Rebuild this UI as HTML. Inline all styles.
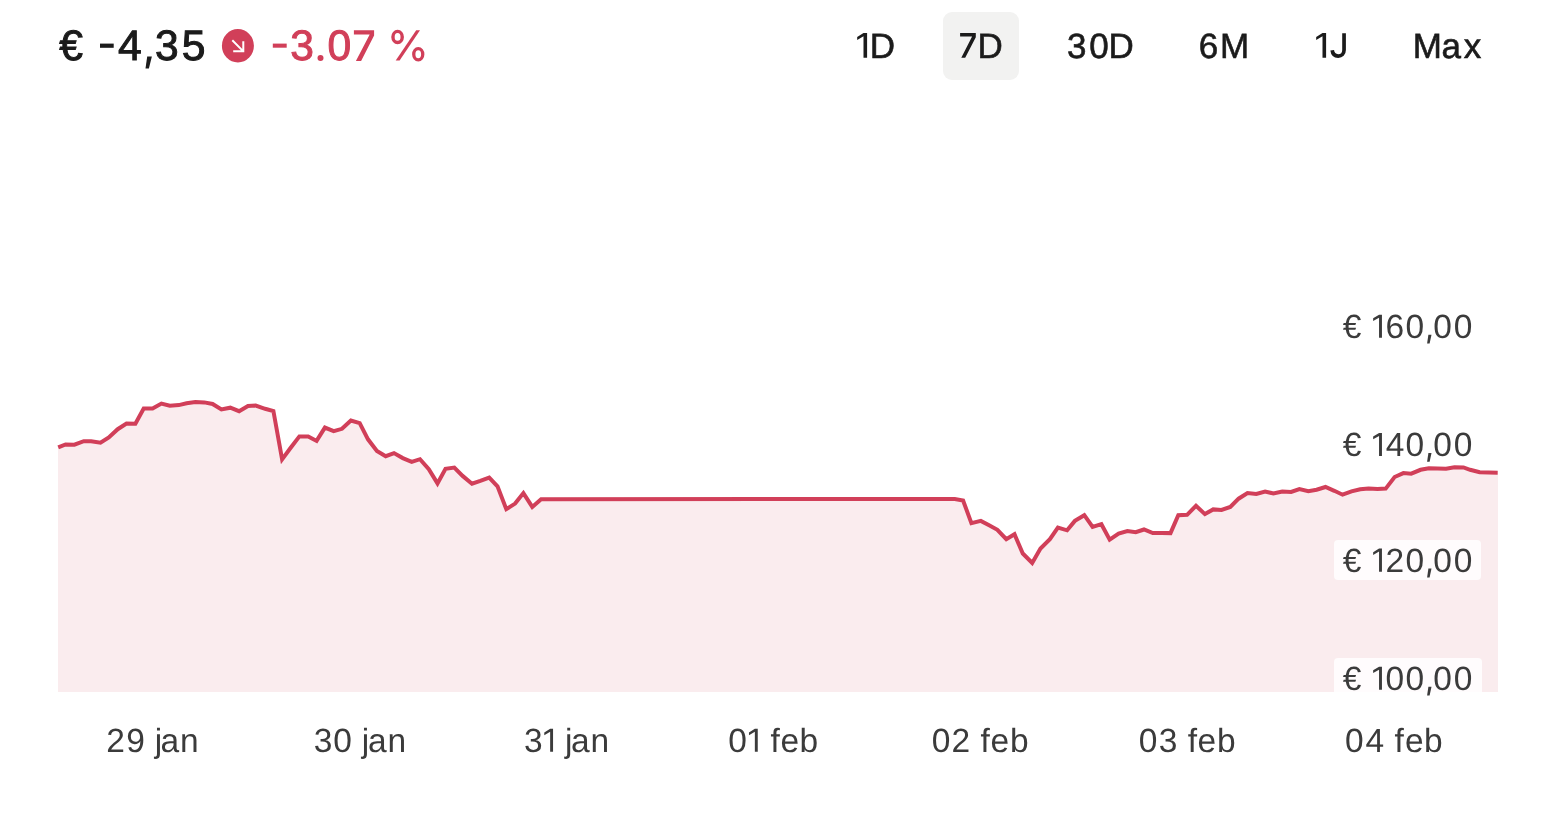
<!DOCTYPE html>
<html><head><meta charset="utf-8">
<style>
html,body{margin:0;padding:0;background:#fff;}
body{width:1552px;height:814px;position:relative;overflow:hidden;}
svg{position:absolute;left:0;top:0;font-family:"Liberation Sans",sans-serif;will-change:transform;text-rendering:geometricPrecision;}
</style></head><body>
<svg width="1552" height="814" viewBox="0 0 1552 814">
<rect x="943" y="12" width="76" height="68" rx="9" fill="#f2f2f1"/>
<polygon points="58,692 58,447.4 65.6,444.4 74.4,444.7 83.8,441.2 91.1,441.2 100.5,442.7 108.8,437.5 117.7,429.2 126.5,423.6 135.4,423.8 143.7,408.5 152.6,408.5 161.4,403.6 169.8,405.8 178.8,405.1 186.6,403.2 195.4,402.1 204.3,402.4 212.6,404 221.4,409.5 230.3,407.7 239.1,411.2 248,406 255.7,405.5 265.1,408.8 273.4,411 282.1,459.4 290.5,448 299.4,436.4 308.2,436.4 316.6,440.9 324.9,427.6 333.7,431.2 342,428.8 350.9,420.5 359.7,423.2 368,439.3 376.9,450.9 385.7,456.2 394,453.1 402.8,458.1 411.7,461.9 420,459.2 428.8,469.1 437.5,483.4 445.5,468.8 454.3,467.6 462.6,475.9 472,483.7 480.3,480.9 489.2,477.6 497.5,486.4 506.3,509.1 515.1,503.6 523.4,493.1 532.3,506.9 541.1,499.2 954.8,499 963.1,500.5 971.4,523.1 980.8,520.9 989.1,525.3 997.4,529.8 1006.3,539.2 1014.5,534.2 1022.8,553.5 1032.2,562.9 1040.5,548.6 1049.9,539.2 1057.9,527.6 1067.1,530.3 1074.9,520.9 1084.3,515.2 1092.6,527 1101.4,524.2 1109.7,539.7 1118.6,533.6 1127.4,531.1 1135.7,532.2 1144,529.5 1152.8,533.1 1161.7,532.9 1170.5,533.1 1178.3,515.2 1187.1,514.8 1196,505.8 1204.9,514.1 1213.2,509.4 1221.5,509.9 1230.3,506.9 1238.6,498.7 1247.5,493.1 1256.3,494 1265.1,491.5 1273.4,493.5 1282.3,491.5 1291.1,492 1299.4,489 1308.3,491.2 1316.6,489.7 1325.5,487 1334.3,490.8 1342.6,494.7 1351.5,491.4 1360.3,489.2 1368.6,488.4 1377.5,488.9 1385.7,488.6 1394.6,477 1403.4,473.1 1411.2,473.7 1420.6,469.8 1428.9,468.2 1437.7,468.5 1446,468.7 1454.5,467.3 1463.5,467.4 1470.1,469.8 1479.7,472.3 1498,472.8 1498,692" fill="#faecee"/>
<polyline points="58.2,447.4 65.6,444.4 74.4,444.7 83.8,441.2 91.1,441.2 100.5,442.7 108.8,437.5 117.7,429.2 126.5,423.6 135.4,423.8 143.7,408.5 152.6,408.5 161.4,403.6 169.8,405.8 178.8,405.1 186.6,403.2 195.4,402.1 204.3,402.4 212.6,404 221.4,409.5 230.3,407.7 239.1,411.2 248,406 255.7,405.5 265.1,408.8 273.4,411 282.1,459.4 290.5,448 299.4,436.4 308.2,436.4 316.6,440.9 324.9,427.6 333.7,431.2 342,428.8 350.9,420.5 359.7,423.2 368,439.3 376.9,450.9 385.7,456.2 394,453.1 402.8,458.1 411.7,461.9 420,459.2 428.8,469.1 437.5,483.4 445.5,468.8 454.3,467.6 462.6,475.9 472,483.7 480.3,480.9 489.2,477.6 497.5,486.4 506.3,509.1 515.1,503.6 523.4,493.1 532.3,506.9 541.1,499.2 954.8,499 963.1,500.5 971.4,523.1 980.8,520.9 989.1,525.3 997.4,529.8 1006.3,539.2 1014.5,534.2 1022.8,553.5 1032.2,562.9 1040.5,548.6 1049.9,539.2 1057.9,527.6 1067.1,530.3 1074.9,520.9 1084.3,515.2 1092.6,527 1101.4,524.2 1109.7,539.7 1118.6,533.6 1127.4,531.1 1135.7,532.2 1144,529.5 1152.8,533.1 1161.7,532.9 1170.5,533.1 1178.3,515.2 1187.1,514.8 1196,505.8 1204.9,514.1 1213.2,509.4 1221.5,509.9 1230.3,506.9 1238.6,498.7 1247.5,493.1 1256.3,494 1265.1,491.5 1273.4,493.5 1282.3,491.5 1291.1,492 1299.4,489 1308.3,491.2 1316.6,489.7 1325.5,487 1334.3,490.8 1342.6,494.7 1351.5,491.4 1360.3,489.2 1368.6,488.4 1377.5,488.9 1385.7,488.6 1394.6,477 1403.4,473.1 1411.2,473.7 1420.6,469.8 1428.9,468.2 1437.7,468.5 1446,468.7 1454.5,467.3 1463.5,467.4 1470.1,469.8 1479.7,472.3 1497.7,472.8" fill="none" stroke="#d13f59" stroke-width="4" stroke-linejoin="miter"/>
<rect x="1334" y="540" width="147" height="40" rx="4" fill="#fff" fill-opacity="0.85"/>
<path d="M1334 692 V662 a4 4 0 0 1 4 -4 H1478 a4 4 0 0 1 4 4 V692 Z" fill="#fff" fill-opacity="0.85"/>
<ellipse cx="237.9" cy="45.8" rx="16" ry="16.7" fill="#d13f59"/>
<path d="M232.3 40.3 L242.6 50.6 M243.3 41.2 V51.3 H233.2" stroke="#fff" stroke-width="2" fill="none"/>
<text x="59.29" y="60.40" fill="#1b1b1b" stroke="#1b1b1b" stroke-width="1" style="font-size:42.6px">€</text>
<text x="117.99" y="60.40" fill="#1b1b1b" stroke="#1b1b1b" stroke-width="1" style="font-size:42.6px">4</text>
<text x="155.08" y="60.40" fill="#1b1b1b" stroke="#1b1b1b" stroke-width="1" style="font-size:42.6px">3</text>
<text x="181.70" y="60.40" fill="#1b1b1b" stroke="#1b1b1b" stroke-width="1" style="font-size:42.6px">5</text>
<path d="M147.20 56.50 L151.90 56.50 L148.90 68.60 L145.50 68.60 Z" fill="#1b1b1b"/>
<rect x="100" y="43.6" width="13.7" height="4.2" fill="#1b1b1b"/>
<text x="290.28" y="60.40" fill="#d13f59" stroke="#d13f59" stroke-width="1" style="font-size:42.6px">3</text>
<text x="327.55" y="60.40" fill="#d13f59" stroke="#d13f59" stroke-width="1" style="font-size:42.6px">0</text>
<circle cx="320.5" cy="58.0" r="3.0" fill="#d13f59"/>
<path d="M353.90 30.20 L374.10 30.20 L374.10 35.60 L361.10 60.90 L355.90 60.90 L369.70 34.60 L353.90 34.60 Z" fill="#d13f59"/>
<rect x="272.8" y="43.6" width="13.9" height="4.1" fill="#d13f59"/>
<ellipse cx="397.6" cy="36.9" rx="4.65" ry="5.55" fill="none" stroke="#d13f59" stroke-width="3.4"/>
<ellipse cx="418.25" cy="54.25" rx="4.5" ry="5.7" fill="none" stroke="#d13f59" stroke-width="3.3"/>
<path d="M416.20 30.20 L420.00 30.20 L399.60 60.60 L395.70 60.60 Z" fill="#d13f59"/>
<path d="M863.50 33.10 L867.10 33.10 L867.10 57.80 L863.50 57.80 L863.50 36.31 L857.19 39.94 L857.19 36.95 Z" fill="#1b1b1b"/>
<text x="869.66" y="57.80" fill="#1b1b1b" stroke="#1b1b1b" stroke-width="0.6" style="font-size:35px">D</text>
<text x="977.46" y="57.50" fill="#1b1b1b" stroke="#1b1b1b" stroke-width="0.6" style="font-size:35px">D</text>
<path d="M960.10 33.10 L975.80 33.10 L975.80 37.30 L965.20 57.80 L961.30 57.80 L972.10 36.50 L960.10 36.50 Z" fill="#1b1b1b"/>
<text x="1067.07" y="57.50" fill="#1b1b1b" stroke="#1b1b1b" stroke-width="0.6" style="font-size:35px">3</text>
<text x="1089.37" y="57.50" fill="#1b1b1b" stroke="#1b1b1b" stroke-width="0.6" style="font-size:35px">0</text>
<text x="1108.46" y="57.50" fill="#1b1b1b" stroke="#1b1b1b" stroke-width="0.6" style="font-size:35px">D</text>
<text x="1198.75" y="57.50" fill="#1b1b1b" stroke="#1b1b1b" stroke-width="0.6" style="font-size:35px">6</text>
<text x="1220.02" y="57.50" fill="#1b1b1b" stroke="#1b1b1b" stroke-width="0.6" style="font-size:35px">M</text>
<path d="M1322.50 33.10 L1326.10 33.10 L1326.10 57.80 L1322.50 57.80 L1322.50 36.31 L1316.19 39.94 L1316.19 36.95 Z" fill="#1b1b1b"/>
<path d="M1344.05 33.2 V50 C1344.05 54 1341.6 56.05 1338.2 56.05 C1334.9 56.05 1332.6 53.9 1332.2 50.3" fill="none" stroke="#1b1b1b" stroke-width="3.7"/>
<text x="1412.72" y="57.50" fill="#1b1b1b" stroke="#1b1b1b" stroke-width="0.6" style="font-size:35px">M</text>
<text x="1441.62" y="57.50" fill="#1b1b1b" stroke="#1b1b1b" stroke-width="0.6" style="font-size:35px">a</text>
<text x="1463.74" y="57.50" fill="#1b1b1b" stroke="#1b1b1b" stroke-width="0.6" style="font-size:35px">x</text>
<text x="1342.79" y="337.80" fill="#3b3b3b" style="font-size:33.5px">€</text>
<path d="M1379.05 314.70 L1381.95 314.70 L1381.95 337.80 L1379.05 337.80 L1379.05 317.70 L1373.15 321.10 L1373.15 318.30 Z" fill="#3b3b3b"/>
<text x="1385.47" y="337.80" fill="#3b3b3b" style="font-size:33.5px">6</text>
<text x="1405.58" y="337.80" fill="#3b3b3b" style="font-size:33.5px">0</text>
<text x="1433.28" y="337.80" fill="#3b3b3b" style="font-size:33.5px">0</text>
<text x="1453.68" y="337.80" fill="#3b3b3b" style="font-size:33.5px">0</text>
<path d="M1428.40 334.70 L1431.50 334.70 L1429.60 343.50 L1427.10 343.50 Z" fill="#3b3b3b"/>
<text x="1342.79" y="456.00" fill="#3b3b3b" style="font-size:33.5px">€</text>
<path d="M1379.05 432.90 L1381.95 432.90 L1381.95 456.00 L1379.05 456.00 L1379.05 435.90 L1373.15 439.30 L1373.15 436.50 Z" fill="#3b3b3b"/>
<text x="1385.69" y="456.00" fill="#3b3b3b" style="font-size:33.5px">4</text>
<text x="1405.58" y="456.00" fill="#3b3b3b" style="font-size:33.5px">0</text>
<text x="1433.28" y="456.00" fill="#3b3b3b" style="font-size:33.5px">0</text>
<text x="1453.68" y="456.00" fill="#3b3b3b" style="font-size:33.5px">0</text>
<path d="M1428.40 452.90 L1431.50 452.90 L1429.60 461.70 L1427.10 461.70 Z" fill="#3b3b3b"/>
<text x="1342.79" y="571.70" fill="#3b3b3b" style="font-size:33.5px">€</text>
<path d="M1379.05 548.60 L1381.95 548.60 L1381.95 571.70 L1379.05 571.70 L1379.05 551.60 L1373.15 555.00 L1373.15 552.20 Z" fill="#3b3b3b"/>
<text x="1385.58" y="571.70" fill="#3b3b3b" style="font-size:33.5px">2</text>
<text x="1405.58" y="571.70" fill="#3b3b3b" style="font-size:33.5px">0</text>
<text x="1433.28" y="571.70" fill="#3b3b3b" style="font-size:33.5px">0</text>
<text x="1453.68" y="571.70" fill="#3b3b3b" style="font-size:33.5px">0</text>
<path d="M1428.40 568.60 L1431.50 568.60 L1429.60 577.40 L1427.10 577.40 Z" fill="#3b3b3b"/>
<text x="1342.79" y="689.80" fill="#3b3b3b" style="font-size:33.5px">€</text>
<path d="M1379.05 666.70 L1381.95 666.70 L1381.95 689.80 L1379.05 689.80 L1379.05 669.70 L1373.15 673.10 L1373.15 670.30 Z" fill="#3b3b3b"/>
<text x="1385.58" y="689.80" fill="#3b3b3b" style="font-size:33.5px">0</text>
<text x="1405.58" y="689.80" fill="#3b3b3b" style="font-size:33.5px">0</text>
<text x="1433.28" y="689.80" fill="#3b3b3b" style="font-size:33.5px">0</text>
<text x="1453.68" y="689.80" fill="#3b3b3b" style="font-size:33.5px">0</text>
<path d="M1428.40 686.70 L1431.50 686.70 L1429.60 695.50 L1427.10 695.50 Z" fill="#3b3b3b"/>
<text x="106.28" y="751.80" fill="#3b3b3b" style="font-size:33.5px">2</text>
<text x="126.19" y="751.80" fill="#3b3b3b" style="font-size:33.5px">9</text>
<text x="154.79" y="751.80" fill="#3b3b3b" style="font-size:33.5px">j</text>
<text x="160.47" y="751.80" fill="#3b3b3b" style="font-size:33.5px">a</text>
<text x="179.96" y="751.80" fill="#3b3b3b" style="font-size:33.5px">n</text>
<text x="313.68" y="751.80" fill="#3b3b3b" style="font-size:33.5px">3</text>
<text x="333.28" y="751.80" fill="#3b3b3b" style="font-size:33.5px">0</text>
<text x="361.69" y="751.80" fill="#3b3b3b" style="font-size:33.5px">j</text>
<text x="368.07" y="751.80" fill="#3b3b3b" style="font-size:33.5px">a</text>
<text x="387.56" y="751.80" fill="#3b3b3b" style="font-size:33.5px">n</text>
<text x="524.08" y="751.80" fill="#3b3b3b" style="font-size:33.5px">3</text>
<path d="M550.15 728.80 L553.05 728.80 L553.05 751.80 L550.15 751.80 L550.15 731.79 L544.28 735.17 L544.28 732.38 Z" fill="#3b3b3b"/>
<text x="564.99" y="751.80" fill="#3b3b3b" style="font-size:33.5px">j</text>
<text x="570.97" y="751.80" fill="#3b3b3b" style="font-size:33.5px">a</text>
<text x="590.46" y="751.80" fill="#3b3b3b" style="font-size:33.5px">n</text>
<text x="728.18" y="751.80" fill="#3b3b3b" style="font-size:33.5px">0</text>
<path d="M754.85 728.80 L757.75 728.80 L757.75 751.80 L754.85 751.80 L754.85 731.79 L748.98 735.17 L748.98 732.38 Z" fill="#3b3b3b"/>
<text x="770.38" y="751.80" fill="#3b3b3b" style="font-size:33.5px">f</text>
<text x="780.62" y="751.80" fill="#3b3b3b" style="font-size:33.5px">e</text>
<text x="799.41" y="751.80" fill="#3b3b3b" style="font-size:33.5px">b</text>
<text x="931.68" y="751.80" fill="#3b3b3b" style="font-size:33.5px">0</text>
<text x="951.38" y="751.80" fill="#3b3b3b" style="font-size:33.5px">2</text>
<text x="980.38" y="751.80" fill="#3b3b3b" style="font-size:33.5px">f</text>
<text x="990.62" y="751.80" fill="#3b3b3b" style="font-size:33.5px">e</text>
<text x="1010.11" y="751.80" fill="#3b3b3b" style="font-size:33.5px">b</text>
<text x="1138.68" y="751.80" fill="#3b3b3b" style="font-size:33.5px">0</text>
<text x="1158.78" y="751.80" fill="#3b3b3b" style="font-size:33.5px">3</text>
<text x="1187.68" y="751.80" fill="#3b3b3b" style="font-size:33.5px">f</text>
<text x="1197.62" y="751.80" fill="#3b3b3b" style="font-size:33.5px">e</text>
<text x="1217.11" y="751.80" fill="#3b3b3b" style="font-size:33.5px">b</text>
<text x="1345.08" y="751.80" fill="#3b3b3b" style="font-size:33.5px">0</text>
<text x="1365.49" y="751.80" fill="#3b3b3b" style="font-size:33.5px">4</text>
<text x="1394.58" y="751.80" fill="#3b3b3b" style="font-size:33.5px">f</text>
<text x="1404.92" y="751.80" fill="#3b3b3b" style="font-size:33.5px">e</text>
<text x="1424.11" y="751.80" fill="#3b3b3b" style="font-size:33.5px">b</text>
</svg>
</body></html>
